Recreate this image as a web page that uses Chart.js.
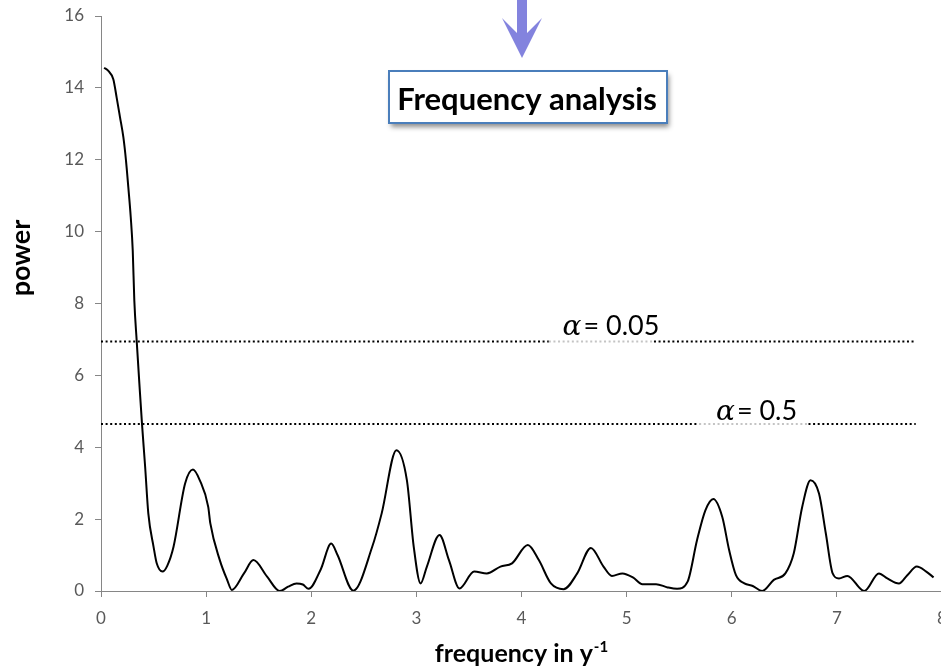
<!DOCTYPE html>
<html>
<head>
<meta charset="utf-8">
<title>Frequency analysis</title>
<script src="https://cdn.jsdelivr.net/npm/chart.js@4.4.1/dist/chart.umd.min.js"></script>
<style>
  html, body { margin: 0; padding: 0; background: #fff; overflow: hidden; }
  #wrap { position: relative; width: 941px; height: 670px; overflow: hidden; }
  #wrap canvas { position: absolute; left: 0; top: 0; }
</style>
</head>
<body>
<div id="wrap"><canvas id="spectrum" width="980" height="670"></canvas></div>
<script>
// periodogram: frequency (1/y) and power
const frequency = [
  0.03, 0.07, 0.117, 0.149, 0.181, 0.213, 0.238, 0.26, 0.283, 0.302, 0.317, 0.34, 0.365, 0.39, 0.42, 0.45,
  0.50, 0.53, 0.585, 0.63, 0.69,
  0.80, 0.875, 0.94, 1.02, 1.04, 1.13, 1.20, 1.245, 1.36, 1.45, 1.58, 1.70, 1.78, 1.86, 1.92, 1.975,
  2.09, 2.19, 2.25, 2.40, 2.58, 2.67, 2.81, 2.91, 2.975, 3.04, 3.10, 3.22, 3.31, 3.41, 3.55, 3.67,
  3.80, 3.91, 4.06, 4.165, 4.28, 4.40, 4.53, 4.66, 4.78, 4.86, 4.96, 5.06, 5.15, 5.28, 5.39, 5.48,
  5.58, 5.67, 5.75, 5.825, 5.91, 5.975, 6.04, 6.12, 6.20, 6.29, 6.40, 6.51, 6.59, 6.67, 6.75, 6.83,
  6.895, 6.96, 7.02, 7.10, 7.26, 7.40, 7.48, 7.59, 7.67, 7.76, 7.85, 7.92
];
const power = [
  14.56, 14.47, 14.24, 13.73, 13.18, 12.62, 11.97, 11.23, 10.4, 9.47, 8.08, 6.94, 5.77, 4.65, 3.45, 2.16,
  1.23, 0.77, 0.54, 0.70, 1.23,
  2.99, 3.38, 3.08, 2.34, 1.88, 0.86, 0.31, 0.03, 0.49, 0.86, 0.40, 0.00, 0.12, 0.21, 0.18, 0.06,
  0.60, 1.32, 1.00, 0.01, 1.23, 2.16, 3.92, 3.08, 1.23, 0.21, 0.68, 1.56, 0.86, 0.07, 0.54, 0.49,
  0.68, 0.77, 1.28, 0.86, 0.21, 0.05, 0.49, 1.20, 0.68, 0.42, 0.49, 0.38, 0.19, 0.19, 0.10, 0.06,
  0.26, 1.42, 2.25, 2.56, 2.06, 1.14, 0.44, 0.21, 0.14, 0.00, 0.31, 0.49, 1.05, 2.34, 3.08, 2.71,
  1.60, 0.49, 0.35, 0.42, 0.00, 0.49, 0.35, 0.21, 0.44, 0.68, 0.54, 0.38
];

// significance levels and their power thresholds
const alphaLevels = ['0.05', '0.5'];
const alphaPower = [6.94, 4.65];
const alphaLineEnd = 7.75;
// stretch of each threshold line that fades out under its label
const alphaFade = [[4.26, 5.26], [5.69, 6.73]];
// where each label starts (frequency) and how far its baseline sits above the line
const alphaLabelX = [4.39, 5.85];
const alphaLabelRaise = [7, 4];

const xMin = 0, xMax = 8, yMin = 0, yMax = 16;

const curve = frequency.map((f, i) => ({ x: f, y: power[i] }));

const thresholdSets = alphaPower.map((p, i) => ({
  label: 'alpha ' + alphaLevels[i],
  data: [0, alphaFade[i][0], alphaFade[i][1], alphaLineEnd].map(f => ({ x: f, y: p })),
  borderColor: '#000',
  borderWidth: 2,
  borderDash: [2, 2.6],
  pointRadius: 0,
  tension: 0,
  segment: {
    borderColor: ctx => (ctx.p0DataIndex === 1 ? '#c4c4c4' : '#000')
  }
}));

const overlay = {
  id: 'overlay',
  afterDraw(chart) {
    const { ctx, scales: { x, y } } = chart;
    ctx.save();

    // arrow into the caption
    ctx.fillStyle = '#8383de';
    ctx.beginPath();
    ctx.moveTo(517, 0);
    ctx.lineTo(517, 33);
    ctx.lineTo(502, 18);
    ctx.lineTo(522, 58);
    ctx.lineTo(542, 18);
    ctx.lineTo(527, 33);
    ctx.lineTo(527, 0);
    ctx.closePath();
    ctx.fill();

    // caption box with drop shadow
    ctx.shadowColor = 'rgba(0,0,0,0.45)';
    ctx.shadowBlur = 5;
    ctx.shadowOffsetX = 2;
    ctx.shadowOffsetY = 4;
    ctx.fillStyle = '#fff';
    ctx.fillRect(389, 71, 278, 52);
    ctx.shadowColor = 'transparent';
    ctx.strokeStyle = '#4a7ebb';
    ctx.lineWidth = 2;
    ctx.strokeRect(389, 71, 278, 52);
    ctx.fillStyle = '#000';
    ctx.font = 'bold 31px Lato';
    ctx.textAlign = 'center';
    ctx.textBaseline = 'alphabetic';
    ctx.fillText('Frequency analysis', 527, 110);

    // alpha labels above the threshold lines
    alphaLevels.forEach((lvl, i) => {
      const px = x.getPixelForValue(alphaLabelX[i]);
      const py = y.getPixelForValue(alphaPower[i]) - alphaLabelRaise[i];
      ctx.textAlign = 'left';
      ctx.font = 'italic 28px "DejaVu Serif"';
      ctx.fillText('\u03b1', px, py);
      const aw = ctx.measureText('\u03b1').width;
      ctx.font = '27px Lato';
      ctx.fillText('= ' + lvl, px + aw + 2, py);
    });

    // axis titles
    ctx.fillStyle = '#000';
    const main = 'frequency in y';
    ctx.font = 'bold 25px Lato';
    const w1 = ctx.measureText(main).width;
    ctx.font = 'bold 15px Lato';
    const w2 = ctx.measureText('-1').width;
    const cx = (x.left + x.right) / 2;
    const start = cx - (w1 + w2 + 1) / 2;
    ctx.textAlign = 'left';
    ctx.font = 'bold 25px Lato';
    ctx.fillText(main, start, 662);
    ctx.font = 'bold 15px Lato';
    ctx.fillText('-1', start + w1 + 1, 652);

    ctx.translate(30, 258);
    ctx.rotate(-Math.PI / 2);
    ctx.textAlign = 'center';
    ctx.font = 'bold 27px Lato';
    ctx.fillText('power', 0, 0);

    ctx.restore();
  }
};

new Chart(document.getElementById('spectrum'), {
  type: 'line',
  data: {
    datasets: [
      {
        label: 'power',
        data: curve,
        borderColor: '#000',
        borderWidth: 2,
        pointRadius: 0,
        cubicInterpolationMode: 'monotone'
      },
      ...thresholdSets
    ]
  },
  options: {
    responsive: false,
    animation: false,
    devicePixelRatio: 1,
    layout: { padding: { top: 16, right: 38, bottom: 0, left: 0 } },
    plugins: {
      legend: { display: false },
      tooltip: { enabled: false }
    },
    scales: {
      x: {
        type: 'linear',
        min: xMin,
        max: xMax,
        ticks: { stepSize: 1, color: '#595959', font: { family: 'Lato', size: 17 }, padding: 11 },
        grid: { drawOnChartArea: false, drawTicks: true, tickLength: 6, color: '#868686' },
        border: { display: true, color: '#868686', width: 1 },
        afterFit(scale) {
          scale.height = 79;
          scale.paddingLeft = 0;
          scale.paddingRight = 0;
        }
      },
      y: {
        min: yMin,
        max: yMax,
        ticks: { stepSize: 2, color: '#595959', font: { family: 'Lato', size: 17 }, padding: 11 },
        grid: { drawOnChartArea: false, drawTicks: true, tickLength: 6, color: '#868686' },
        border: { display: true, color: '#868686', width: 1 },
        afterFit(scale) {
          scale.width = 101;
          scale.paddingTop = 0;
          scale.paddingBottom = 0;
        }
      }
    }
  },
  plugins: [overlay]
});
</script>
</body>
</html>
